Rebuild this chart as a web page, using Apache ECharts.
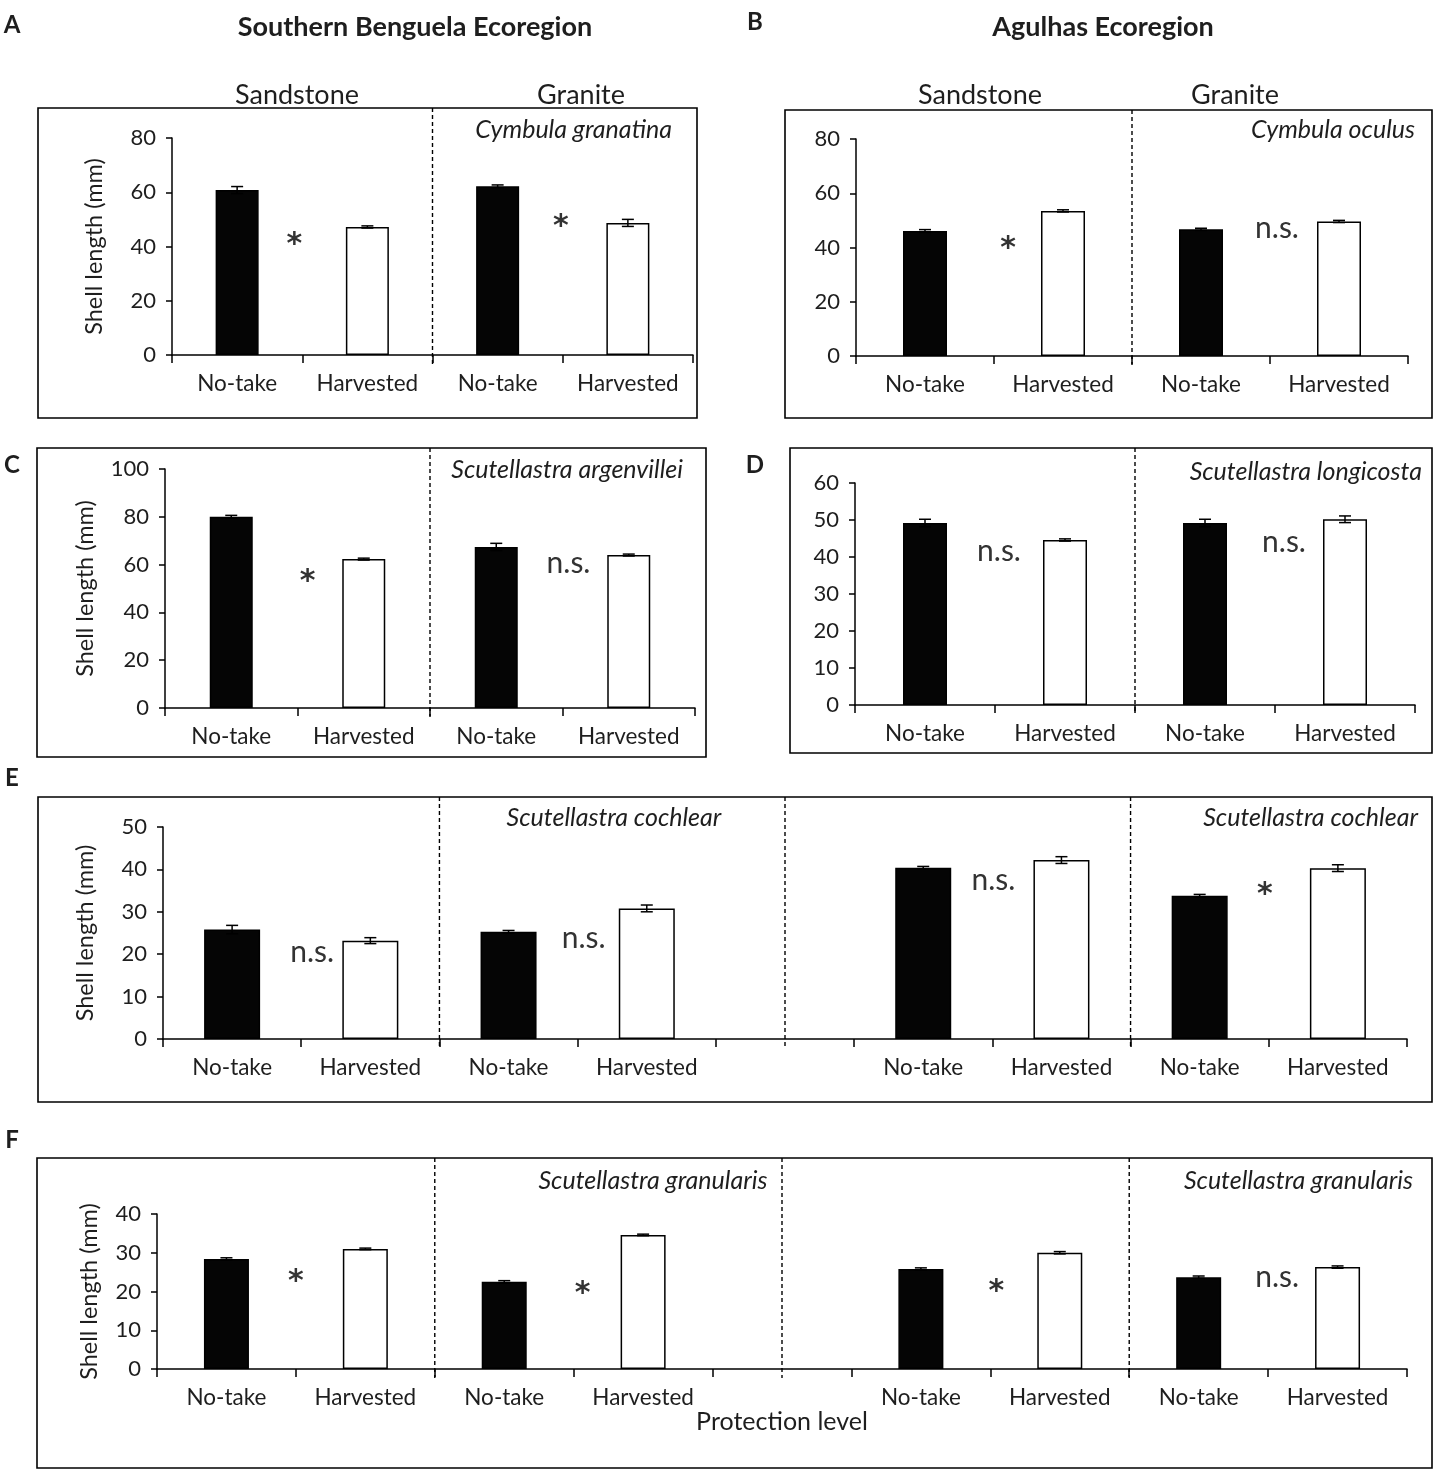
<!DOCTYPE html>
<html><head><meta charset="utf-8">
<script src="https://cdn.jsdelivr.net/npm/echarts@6/dist/echarts.min.js"></script>
<style>html,body{margin:0;padding:0;background:#fff}#c{width:1447px;height:1481px}</style>
</head><body><div id="c"></div>
<script>
// ---------------- data ----------------
const catsFour = ['No-take', 'Harvested', 'No-take', 'Harvested'];
const catsNine = ['No-take', 'Harvested', 'No-take', 'Harvested', '', 'No-take', 'Harvested', 'No-take', 'Harvested'];

const aValues = [60.8, 47.2, 62.2, 48.7];
const aErrors = [1.3, 0.4, 0.5, 1.3];
const bValues = [46.1, 53.5, 46.7, 49.6];
const bErrors = [0.5, 0.4, 0.4, 0.4];
const cValues = [80.0, 62.3, 67.4, 64.0];
const cErrors = [0.6, 0.4, 1.5, 0.4];
const dValues = [49.2, 44.6, 49.2, 50.2];
const dErrors = [1.0, 0.3, 1.0, 0.9];
const eValues = [25.8, 23.2, 25.3, 30.8, null, 40.4, 42.2, 33.8, 40.3];
const eErrors = [1.0, 0.7, 0.3, 0.8, null, 0.3, 0.8, 0.3, 0.8];
const fValues = [28.4, 31.0, 22.5, 34.6, null, 25.8, 30.0, 23.7, 26.3];
const fErrors = [0.3, 0.2, 0.3, 0.2, null, 0.3, 0.3, 0.3, 0.3];

const aSig = ['*', '*'];
const bSig = ['*', 'n.s.'];
const cSig = ['*', 'n.s.'];
const dSig = ['n.s.', 'n.s.'];
const eSig = ['n.s.', 'n.s.', 'n.s.', '*'];
const fSig = ['*', '*', '*', 'n.s.'];

const yName = 'Shell length (mm)';
const FONT = 'Lato, "Open Sans", sans-serif';
const TXT = '#1e1e1e';

// ---------------- layout ----------------
const panels = [
  { cats: catsFour, values: aValues, errors: aErrors, sig: aSig, max: 80, interval: 20, name: yName, nameGap: 66,
    box: [38, 108, 659, 310], grid: [172, 138, 521, 217], barWidth: 43,
    seps: [[1, 0.5]], sigPos: [[0, 43.9, -8], [2, 50.5, -2]] },
  { cats: catsFour, values: bValues, errors: bErrors, sig: bSig, max: 80, interval: 20, name: '', nameGap: 0,
    box: [785, 110, 647, 308], grid: [856, 139, 552, 217], barWidth: 44,
    seps: [[1, 0.5]], sigPos: [[0, 42.8, 14], [2, 47.2, 7]] },
  { cats: catsFour, values: cValues, errors: cErrors, sig: cSig, max: 100, interval: 20, name: yName, nameGap: 68,
    box: [37, 448, 669, 309], grid: [165, 469, 530, 239], barWidth: 43,
    seps: [[1, 0.5]], sigPos: [[0, 56.5, 10], [2, 60.7, 6]] },
  { cats: catsFour, values: dValues, errors: dErrors, sig: dSig, max: 60, interval: 10, name: '', nameGap: 0,
    box: [790, 448, 642, 305], grid: [855, 483, 560, 222], barWidth: 44,
    seps: [[1, 0.5]], sigPos: [[0, 41.6, 4], [2, 44.0, 9]] },
  { cats: catsNine, values: eValues, errors: eErrors, sig: eSig, max: 50, interval: 10, name: yName, nameGap: 66,
    box: [38, 797, 1394, 305], grid: [163, 827, 1244, 212], barWidth: 56,
    seps: [[1, 0.5], [4, 0], [6, 0.5]], sigPos: [[0, 20.5, 11], [2, 23.8, 6], [5, 37.5, 1], [7, 36.0, -4]] },
  { cats: catsNine, values: fValues, errors: fErrors, sig: fSig, max: 40, interval: 10, name: yName, nameGap: 56,
    box: [37, 1158, 1395, 310], grid: [157, 1214, 1250, 155], barWidth: 45,
    seps: [[1, 0.5], [4, 0], [6, 0.5]], sigPos: [[0, 24.8, 0], [2, 21.7, 9], [5, 22.2, 6], [7, 23.7, 9]],
    xName: 'Protection level' }
];

const grids = [], xAxes = [], yAxes = [], series = [], graphics = [];

panels.forEach((p, gi) => {
  grids.push({ left: p.grid[0], top: p.grid[1], width: p.grid[2], height: p.grid[3] });
  xAxes.push({
    gridIndex: gi, type: 'category', data: p.cats,
    name: p.xName || '', nameLocation: 'middle', nameGap: 40,
    nameTextStyle: { fontSize: 25, color: TXT, fontFamily: FONT },
    axisLine: { lineStyle: { color: '#000', width: 1.5 } },
    axisTick: { show: true, interval: 0, length: 8, lineStyle: { color: '#000', width: 1.5 } },
    axisLabel: { interval: 0, color: TXT, fontSize: 22.5, fontFamily: FONT, margin: 17 }
  });
  yAxes.push({
    gridIndex: gi, type: 'value', min: 0, max: p.max, interval: p.interval,
    name: p.name, nameLocation: 'middle', nameGap: p.nameGap,
    nameTextStyle: { fontSize: 23.5, color: TXT, fontFamily: FONT },
    splitLine: { show: false },
    axisLine: { show: true, lineStyle: { color: '#000', width: 1.5 } },
    axisTick: { show: true, length: 6, lineStyle: { color: '#000', width: 1.5 } },
    axisLabel: { color: TXT, fontSize: 22, fontFamily: FONT, margin: 16 }
  });
  const cats = p.cats;
  series.push({
    type: 'bar', xAxisIndex: gi, yAxisIndex: gi, data: p.values, barWidth: p.barWidth, silent: true,
    itemStyle: {
      color: (prm) => cats[prm.dataIndex] === 'No-take' ? '#050505' : '#ffffff',
      borderColor: '#000', borderWidth: 1.5
    }
  });
  const errData = [];
  p.values.forEach((v, i) => { if (v != null) errData.push([i, v, p.errors[i]]); });
  series.push({
    type: 'custom', xAxisIndex: gi, yAxisIndex: gi, data: errData, z: 5, silent: true, clip: false,
    renderItem: (prm, api) => {
      const i = api.value(0), v = api.value(1), e = api.value(2);
      const hi = api.coord([i, v + e]), lo = api.coord([i, v - e]);
      const w = 6, st = { stroke: '#000', lineWidth: 1.5 };
      return { type: 'group', children: [
        { type: 'line', shape: { x1: hi[0], y1: hi[1], x2: lo[0], y2: lo[1] }, style: st },
        { type: 'line', shape: { x1: hi[0] - w, y1: hi[1], x2: hi[0] + w, y2: hi[1] }, style: st },
        { type: 'line', shape: { x1: lo[0] - w, y1: lo[1], x2: lo[0] + w, y2: lo[1] }, style: st }
      ] };
    }
  });
  const boxTop = p.box[1];
  series.push({
    type: 'custom', xAxisIndex: gi, yAxisIndex: gi, data: p.seps.map(s => [s[0], 0, s[1]]),
    z: 6, silent: true, clip: false,
    renderItem: (prm, api) => {
      const c = api.coord([api.value(0), 0]);
      const bw = api.size([1, 0])[0];
      const x = c[0] + api.value(2) * bw;
      return { type: 'line', shape: { x1: x, y1: boxTop, x2: x, y2: c[1] + 9 },
        style: { stroke: '#000', lineWidth: 1.4, lineDash: [4, 3] } };
    }
  });
  const sig = p.sig;
  series.push({
    type: 'custom', xAxisIndex: gi, yAxisIndex: gi, data: p.sigPos.map(s => [s[0], s[1], s[2]]),
    z: 7, silent: true, clip: false,
    renderItem: (prm, api) => {
      const c = api.coord([api.value(0), api.value(1)]);
      const bw = api.size([1, 0])[0];
      const t = sig[prm.dataIndex];
      const star = t === '*';
      return { type: 'text', x: c[0] + bw * 0.5 + api.value(2), y: c[1] + (star ? 9 : 0),
        style: { text: t, fill: '#333',
          font: star ? 'bold 30px "DejaVu Sans", sans-serif' : '30px ' + FONT,
          align: 'center', verticalAlign: 'middle' } };
    }
  });
  graphics.push({ type: 'rect', shape: { x: p.box[0], y: p.box[1], width: p.box[2], height: p.box[3] },
    style: { fill: 'none', stroke: '#000', lineWidth: 1.6 }, silent: true });
});

function txt(s, x, y, font, align) {
  return { type: 'text', x: x, y: y, silent: true,
    style: { text: s, fill: TXT, font: font, align: align || 'center', verticalAlign: 'middle' } };
}
const letterF = 'bold 24px ' + FONT;
const headF = 'bold 27px ' + FONT;
const itF = 'italic 25px ' + FONT;
const regF = '27px ' + FONT;
graphics.push(
  txt('A', 12, 25, letterF), txt('B', 755, 22, letterF), txt('C', 12, 465, letterF),
  txt('D', 755, 465, letterF), txt('E', 12, 778, letterF), txt('F', 12, 1140, letterF),
  txt('Southern Benguela Ecoregion', 415, 27, headF), txt('Agulhas Ecoregion', 1103, 27, headF),
  txt('Sandstone', 297, 95, regF), txt('Granite', 581, 95, regF),
  txt('Sandstone', 980, 95, regF), txt('Granite', 1235, 95, regF),
  txt('Cymbula granatina', 672, 130, itF, 'right'),
  txt('Cymbula oculus', 1415, 130, itF, 'right'),
  txt('Scutellastra argenvillei', 683, 470, itF, 'right'),
  txt('Scutellastra longicosta', 1422, 472, itF, 'right'),
  txt('Scutellastra cochlear', 614, 818, itF),
  txt('Scutellastra cochlear', 1418, 818, itF, 'right'),
  txt('Scutellastra granularis', 653, 1181, itF),
  txt('Scutellastra granularis', 1413, 1181, itF, 'right')
);

const chart = echarts.init(document.getElementById('c'), null, { renderer: 'canvas' });
chart.setOption({
  backgroundColor: '#fff',
  animation: false,
  textStyle: { fontFamily: FONT },
  grid: grids, xAxis: xAxes, yAxis: yAxes, series: series,
  graphic: graphics
});
</script>
</body></html>
